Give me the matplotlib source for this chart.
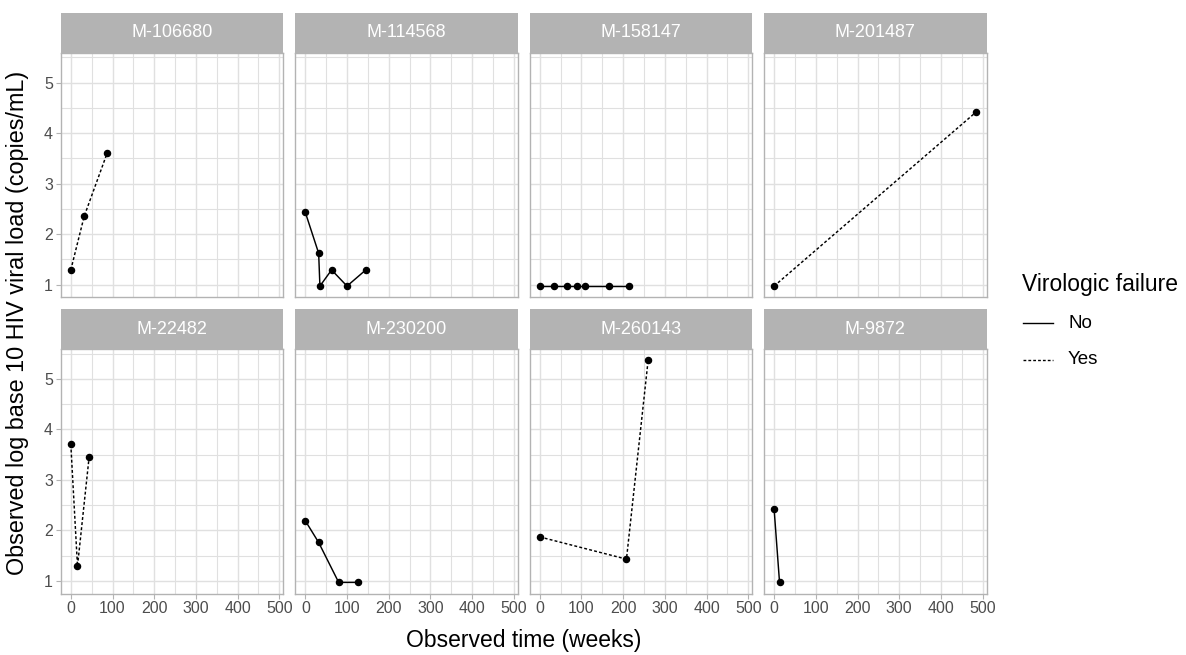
import matplotlib
matplotlib.use("Agg")
import matplotlib.pyplot as plt
import numpy as np

plt.rcParams["font.family"] = ["Liberation Sans", "DejaVu Sans"]

# subject ids, in facet order
subjects = ["M-106680", "M-114568", "M-158147", "M-201487",
            "M-22482", "M-230200", "M-260143", "M-9872"]

# observed time (weeks) and log10 viral load per subject
weeks = {
    "M-106680": [0, 32, 87],
    "M-114568": [0, 32, 35, 63, 100, 145],
    "M-158147": [0, 34, 65, 90, 108, 165, 215],
    "M-201487": [0, 485],
    "M-22482": [0, 16, 44],
    "M-230200": [0, 32, 80, 127],
    "M-260143": [0, 208, 260],
    "M-9872": [0, 13],
}
log_vl = {
    "M-106680": [1.29, 2.35, 3.60],
    "M-114568": [2.43, 1.62, 0.97, 1.29, 0.97, 1.29],
    "M-158147": [0.97, 0.97, 0.97, 0.97, 0.97, 0.97, 0.97],
    "M-201487": [0.97, 4.42],
    "M-22482": [3.70, 1.29, 3.46],
    "M-230200": [2.19, 1.76, 0.97, 0.97],
    "M-260143": [1.87, 1.43, 5.37],
    "M-9872": [2.42, 0.97],
}
# virologic failure flag per subject
failure = {
    "M-106680": "Yes", "M-114568": "No", "M-158147": "No", "M-201487": "Yes",
    "M-22482": "Yes", "M-230200": "No", "M-260143": "Yes", "M-9872": "No",
}

x_ticks = [0, 100, 200, 300, 400, 500]
y_ticks = [1, 2, 3, 4, 5]

W, H = 1186, 655
fig = plt.figure(figsize=(W / 100, H / 100), dpi=100)


def px_axes(x, y, w, h):
    return fig.add_axes([x / W, 1 - (y + h) / H, w / W, h / H])


styles = {"No": "-", "Yes": (0, (2, 1.5))}
border = "#b3b3b3"
grid = "#e0e0e0"

panel_x = [60.7, 295.2, 529.6, 764.0]
panel_w = 222.5
strip_y = [12.7, 309.0]
strip_h = 40.0
panel_h = 244.5

all_x = [v for s in subjects for v in weeks[s]]
all_y = [v for s in subjects for v in log_vl[s]]
xr = max(all_x) - min(all_x)
yr = max(all_y) - min(all_y)
xlim = (min(all_x) - 0.05 * xr, max(all_x) + 0.05 * xr)
ylim = (min(all_y) - 0.05 * yr, max(all_y) + 0.05 * yr)

for i, s in enumerate(subjects):
    row, col = divmod(i, 4)
    x0 = panel_x[col]
    sy = strip_y[row]

    strip = px_axes(x0, sy, panel_w, strip_h)
    strip.set_facecolor(border)
    strip.set_xticks([])
    strip.set_yticks([])
    for sp in strip.spines.values():
        sp.set_visible(False)
    strip.text(0.5, 0.5, s, color="white", fontsize=13, ha="center",
               va="center", transform=strip.transAxes)

    ax = px_axes(x0, sy + strip_h, panel_w, panel_h)
    ax.set_xlim(*xlim)
    ax.set_ylim(*ylim)
    ax.set_xticks(x_ticks)
    ax.set_yticks(y_ticks)
    ax.set_xticks(np.arange(50, 500, 100), minor=True)
    ax.set_yticks(np.arange(1.5, 6, 1.0), minor=True)
    ax.grid(True, which="major", color=grid, lw=1.0)
    ax.grid(True, which="minor", color=grid, lw=0.8)
    ax.set_axisbelow(True)
    for sp in ax.spines.values():
        sp.set_color(border)
        sp.set_linewidth(1.0)
    ax.tick_params(which="minor", length=0)
    ax.tick_params(which="major", color=border, length=3.5, width=0.8,
                   labelcolor="#4d4d4d", labelsize=11.5, pad=2)
    if row == 0:
        ax.tick_params(axis="x", length=0, labelbottom=False)
    if col != 0:
        ax.tick_params(axis="y", length=0, labelleft=False)

    ax.plot(weeks[s], log_vl[s], color="black", lw=1.05,
            linestyle=styles[failure[s]], zorder=3)
    ax.plot(weeks[s], log_vl[s], "o", color="black", ms=4.4, zorder=4)

fig.text(523.6 / W, 1 - 641 / H, "Observed time (weeks)", fontsize=16.5,
         ha="center", va="center")
fig.text(18 / W, 1 - 323 / H, "Observed log base 10 HIV viral load (copies/mL)",
         fontsize=16.8, ha="center", va="center", rotation=90)

# legend
fig.text(1022 / W, 1 - 284 / H, "Virologic failure", fontsize=16.5,
         ha="left", va="center")
for label, ypx in [("No", 323), ("Yes", 360)]:
    fig.add_artist(plt.Line2D([1023 / W, 1053 / W], [1 - ypx / H, 1 - ypx / H],
                              color="black", lw=1.0, linestyle=styles[label]))
    fig.text(1068 / W, 1 - ypx / H, label, fontsize=13.5, ha="left",
             va="center")

fig.savefig("out.png", dpi=100)
